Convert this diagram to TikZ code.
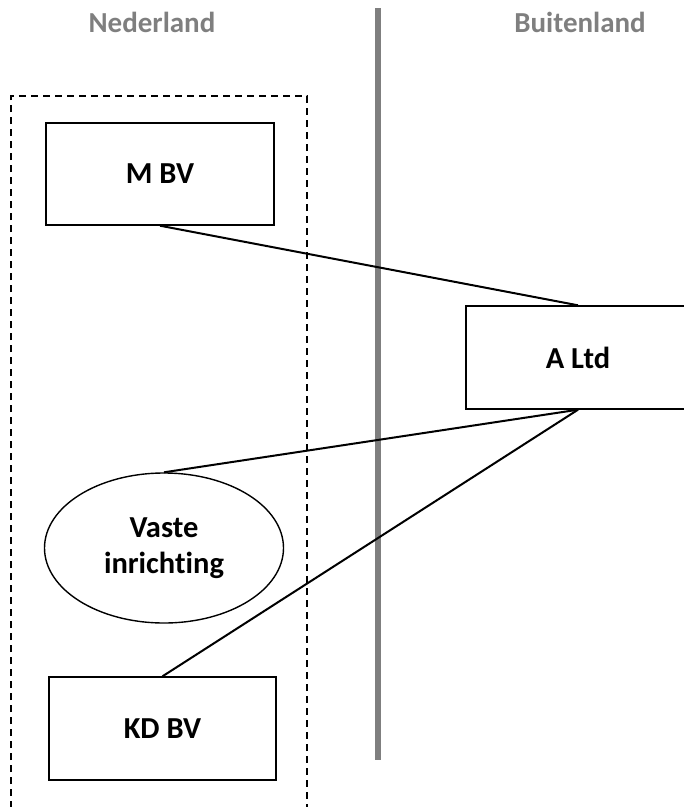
\documentclass[tikz,border=0pt]{standalone}
\usepackage{fontspec}
\setmainfont{Carlito}[Ligatures=NoCommon]
\usepackage{tikz}
\usetikzlibrary{shapes.geometric}

\definecolor{landgray}{HTML}{7F7F7F}

\begin{document}
\begin{tikzpicture}[x=1pt, y=-1pt,
  box/.style={draw, line width=1.4pt, rectangle, font=\bfseries\fontsize{30.5}{36}\selectfont, inner sep=0pt},
  vi/.style={draw, line width=1.4pt, ellipse, font=\bfseries\fontsize{30.5}{36}\selectfont, align=center, inner sep=0pt, minimum width=239pt, minimum height=150pt},
  land/.style={font=\bfseries\fontsize{29}{34}\selectfont, text=landgray},
  link/.style={line width=2pt}]
\useasboundingbox (0,0) rectangle (684,807);

% landen
\node[land] (nl) at (152,22) {Nederland};
\node[land] (bl) at (580,22) {Buitenland};
\coordinate (grenstop) at (378,8);
\coordinate (grensbot) at (378,760);
\draw[landgray, line width=6pt] (grenstop) -- (grensbot);

% fiscale eenheid
\draw[line width=1.7pt, dash pattern=on 7pt off 5pt] (11,820) -- (11,96) -- (307,96) -- (307,820);

% vennootschappen
\node[box, minimum width=228pt, minimum height=102pt] (mbv) at (160,174) {M BV};
\node[box, minimum width=224pt, minimum height=103pt] (altd) at (578,357.5) {A Ltd};
\node[vi] (vi) at (164,548) {Vaste\\inrichting};
\node[box, minimum width=227pt, minimum height=103pt] (kdbv) at (162.5,728.5) {KD BV};

\draw[link] (mbv.south) -- (altd.north);
\draw[link] (altd.south) -- (vi.north);
\draw[link] (altd.south) -- (kdbv.north);
\end{tikzpicture}
\end{document}
